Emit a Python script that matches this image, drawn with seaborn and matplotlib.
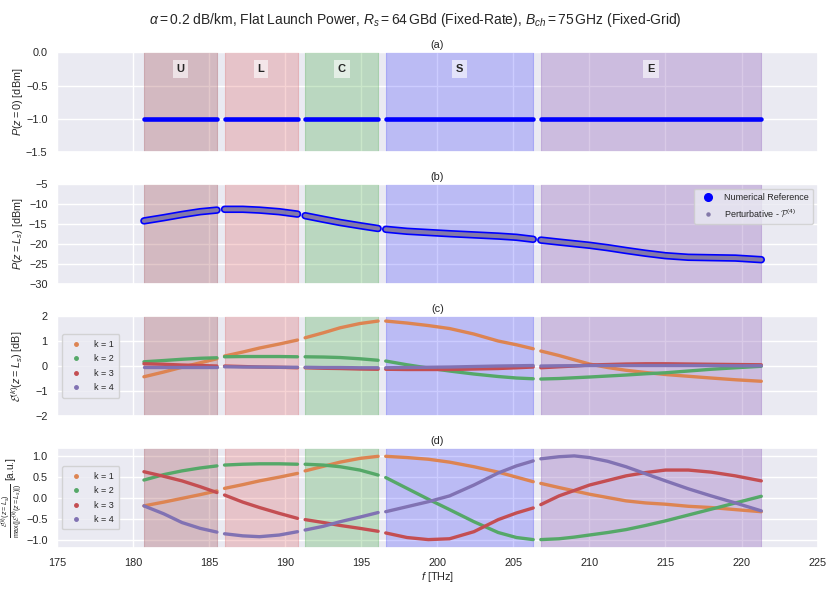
import numpy as np
import pandas as pd
import matplotlib
matplotlib.use('Agg')
import matplotlib.pyplot as plt
from matplotlib.lines import Line2D
import seaborn as sns

# ---- data ----
bands = ['U', 'L', 'C', 'S', 'E']
band_edges = [(180.7, 185.5), (186.0, 190.8), (191.3, 196.1), (196.6, 206.3), (206.8, 221.3)]
band_colors = ['#a14a52', '#d62728', '#2ca02c', '#0000ff', '#9467bd']
band_alpha = [0.3, 0.2, 0.25, 0.2, 0.35]

f_U = [180.7, 182.0, 183.2, 184.4, 185.5]
f_L = [186.0, 187.2, 188.3, 189.6, 190.8]
f_C = [191.3, 192.5, 193.6, 194.9, 196.1]
f_S = [196.6, 198.0, 199.4, 200.8, 202.4, 204.0, 205.2, 206.3]
f_E = [206.8, 208.0, 209.0, 210.0, 211.2, 212.4, 213.7, 215.0, 216.5, 218.0, 219.6, 221.3]
freqs = [f_U, f_L, f_C, f_S, f_E]

# (a) launch power
P0 = -1.0

# (b) power at end of span
PLs_U = [-14.2, -13.4, -12.6, -11.9, -11.5]
PLs_L = [-11.3, -11.3, -11.5, -11.9, -12.5]
PLs_C = [-12.9, -13.8, -14.6, -15.4, -16.1]
PLs_S = [-16.3, -16.8, -17.1, -17.4, -17.7, -18.0, -18.3, -18.8]
PLs_E = [-19.0, -19.5, -19.9, -20.3, -20.9, -21.6, -22.3, -22.9, -23.3, -23.4, -23.5, -23.9]
PLs = [PLs_U, PLs_L, PLs_C, PLs_S, PLs_E]

# (c) E^(k)(z=Ls) [dB]
Ek1 = [[-0.43, -0.24, -0.05, 0.13, 0.29],
       [0.40, 0.56, 0.72, 0.88, 1.04],
       [1.13, 1.33, 1.53, 1.70, 1.80],
       [1.80, 1.72, 1.62, 1.50, 1.28, 1.00, 0.85, 0.69],
       [0.60, 0.42, 0.25, 0.08, -0.06, -0.17, -0.26, -0.34, -0.41, -0.48, -0.55, -0.61]]
Ek2 = [[0.17, 0.22, 0.27, 0.31, 0.33],
       [0.37, 0.38, 0.38, 0.38, 0.37],
       [0.37, 0.36, 0.34, 0.29, 0.23],
       [0.20, 0.05, -0.08, -0.20, -0.32, -0.42, -0.48, -0.51],
       [-0.52, -0.50, -0.47, -0.44, -0.40, -0.36, -0.31, -0.27, -0.20, -0.13, -0.07, -0.01]]
Ek3 = [[0.09, 0.07, 0.04, 0.02, 0.00],
       [0.00, -0.02, -0.04, -0.05, -0.07],
       [-0.07, -0.09, -0.10, -0.12, -0.13],
       [-0.13, -0.14, -0.14, -0.14, -0.12, -0.10, -0.07, -0.04],
       [-0.07, -0.03, 0.00, 0.04, 0.06, 0.08, 0.09, 0.09, 0.08, 0.07, 0.06, 0.05]]
Ek4 = [[-0.03, -0.03, -0.03, -0.03, -0.03],
       [-0.03, -0.04, -0.04, -0.05, -0.05],
       [-0.05, -0.06, -0.06, -0.07, -0.07],
       [-0.07, -0.06, -0.05, -0.04, -0.02, 0.00, 0.01, 0.02],
       [0.00, 0.01, 0.01, 0.02, 0.02, 0.02, 0.02, 0.02, 0.02, 0.02, 0.01, 0.01]]

# (d) normalised E^(k)
Nk1 = [[-0.19, -0.10, -0.01, 0.08, 0.17],
       [0.23, 0.32, 0.41, 0.50, 0.59],
       [0.65, 0.76, 0.86, 0.95, 1.00],
       [1.00, 0.97, 0.93, 0.86, 0.75, 0.62, 0.50, 0.39],
       [0.35, 0.25, 0.17, 0.09, 0.01, -0.07, -0.12, -0.15, -0.20, -0.23, -0.28, -0.33]]
Nk2 = [[0.43, 0.56, 0.65, 0.72, 0.77],
       [0.79, 0.81, 0.82, 0.82, 0.81],
       [0.81, 0.79, 0.75, 0.67, 0.55],
       [0.49, 0.23, -0.03, -0.28, -0.57, -0.83, -0.95, -1.00],
       [-1.00, -0.98, -0.94, -0.89, -0.83, -0.76, -0.66, -0.55, -0.41, -0.27, -0.12, 0.04]]
Nk3 = [[0.63, 0.52, 0.41, 0.27, 0.13],
       [0.07, -0.10, -0.23, -0.37, -0.49],
       [-0.52, -0.59, -0.66, -0.73, -0.80],
       [-0.84, -0.95, -1.00, -0.98, -0.81, -0.52, -0.36, -0.24],
       [-0.16, 0.05, 0.18, 0.31, 0.42, 0.53, 0.61, 0.67, 0.67, 0.62, 0.53, 0.41]]
Nk4 = [[-0.19, -0.38, -0.59, -0.73, -0.82],
       [-0.86, -0.91, -0.93, -0.89, -0.81],
       [-0.77, -0.68, -0.57, -0.46, -0.35],
       [-0.33, -0.21, -0.09, 0.05, 0.31, 0.60, 0.77, 0.89],
       [0.94, 0.99, 1.01, 0.97, 0.88, 0.75, 0.58, 0.41, 0.22, 0.05, -0.12, -0.31]]

k_labels = ['k = 1', 'k = 2', 'k = 3', 'k = 4']


def long_table(series_list):
    rows = []
    for kl, series in zip(k_labels, series_list):
        for b, fb, vb in zip(bands, freqs, series):
            for fi, vi in zip(fb, vb):
                rows.append({'f': fi, 'val': vi, 'k': kl, 'band': b})
    return pd.DataFrame(rows)


df_c = long_table([Ek1, Ek2, Ek3, Ek4])
df_d = long_table([Nk1, Nk2, Nk3, Nk4])
rows_b = []
for b, fb, vb in zip(bands, freqs, PLs):
    for fi, vi in zip(fb, vb):
        rows_b.append({'f': fi, 'P': vi, 'band': b})
df_b = pd.DataFrame(rows_b)
df_a = df_b.assign(P=P0)

# ---- style ----
sns.set_theme(style='darkgrid')
plt.rcParams['font.family'] = ['Liberation Sans', 'DejaVu Sans']
plt.rcParams['mathtext.fontset'] = 'custom'
plt.rcParams['mathtext.rm'] = 'Liberation Sans'
plt.rcParams['mathtext.it'] = 'Liberation Sans:italic'
plt.rcParams['mathtext.bf'] = 'Liberation Sans:bold'
plt.rcParams['mathtext.cal'] = 'cmsy10'

pal = sns.color_palette('deep')
k_colors = dict(zip(k_labels, [pal[1], pal[2], pal[3], pal[4]]))

fs = 7.8
fig, axes = plt.subplots(4, 1, figsize=(8.3, 5.93), dpi=100, sharex=True)
fig.subplots_adjust(left=0.069, right=0.985, top=0.912, bottom=0.076, hspace=0.32)


def shade(ax):
    for (lo, hi), c, a in zip(band_edges, band_colors, band_alpha):
        ax.axvspan(lo, hi, facecolor=c, alpha=a, edgecolor=c, lw=0.8, zorder=1)


for ax in axes:
    shade(ax)
    ax.set_xlim(175, 225)
    ax.tick_params(labelsize=fs, pad=1)
    ax.set_xlabel('')

# (a)
ax = axes[0]
sns.lineplot(data=df_a, x='f', y='P', units='band', estimator=None, color='blue',
             lw=3.3, solid_capstyle='round', ax=ax, zorder=3)
ax.set_ylim(-1.5, 0)
ax.set_yticks([-1.5, -1.0, -0.5, 0.0])
ax.set_ylabel('$P(z=0)$ [dBm]', fontsize=fs)
ax.set_title('(a)', fontsize=fs, pad=3)
for b, (lo, hi) in zip(bands, band_edges):
    ax.text((lo + hi) / 2, -0.25, b, ha='center', va='center', fontsize=8,
            fontweight='bold', bbox=dict(facecolor='white', alpha=0.6, edgecolor='none', pad=2.8))

# (b)
ax = axes[1]
sns.lineplot(data=df_b, x='f', y='P', units='band', estimator=None, color='blue',
             lw=5.4, solid_capstyle='round', ax=ax, zorder=3)
sns.lineplot(data=df_b, x='f', y='P', units='band', estimator=None, color='#8479a9',
             lw=3.0, solid_capstyle='round', ax=ax, zorder=4)
ax.set_ylim(-30, -5)
ax.set_yticks([-30, -25, -20, -15, -10, -5])
ax.set_ylabel('$P(z=L_s)$ [dBm]', fontsize=fs)
ax.set_title('(b)', fontsize=fs, pad=3)
hb = [Line2D([], [], ls='none', marker='o', ms=5.5, color='blue'),
      Line2D([], [], ls='none', marker='o', ms=2.2, color='#8479a9')]
ax.legend(hb, ['Numerical Reference', r'Perturbative - $\mathcal{P}^{(4)}$'], loc='upper right',
          fontsize=6.5, frameon=True, borderpad=0.5, labelspacing=0.6)

# (c) and (d)
for ax, df in [(axes[2], df_c), (axes[3], df_d)]:
    sns.lineplot(data=df, x='f', y='val', hue='k', units='band', estimator=None,
                 palette=k_colors, lw=2.4, solid_capstyle='round', ax=ax, zorder=3, legend=False)
    hk = [Line2D([], [], ls='none', marker='o', ms=2.5, color=k_colors[kl]) for kl in k_labels]
    ax.legend(hk, k_labels, loc='center left', fontsize=6.5, frameon=True,
              borderpad=0.6, labelspacing=0.6, handletextpad=1.0)

ax = axes[2]
ax.set_ylim(-2, 2)
ax.set_yticks([-2, -1, 0, 1, 2])
ax.set_ylabel(r'$\mathcal{E}^{(k)}(z=L_s)$ [dB]', fontsize=fs)
ax.set_title('(c)', fontsize=fs, pad=3)

ax = axes[3]
ax.set_ylim(-1.2, 1.2)
ax.set_yticks([-1.0, -0.5, 0.0, 0.5, 1.0])
ax.set_ylabel(r'$\frac{\mathcal{E}^{(k)}(z=L_s)}{\max(|\mathcal{E}^{(k)}(z=L_s)|)}$ [a.u.]', fontsize=7.3)
ax.set_title('(d)', fontsize=fs, pad=3)
ax.set_xticks(np.arange(175, 226, 5))
ax.set_xlabel('$f$ [THz]', fontsize=fs, labelpad=2)

fig.suptitle(r'$\alpha = 0.2$ dB/km, Flat Launch Power, $R_s = 64\,$GBd (Fixed-Rate), '
             r'$B_{ch} = 75\,$GHz (Fixed-Grid)', fontsize=10, y=0.982)

for ax in axes:
    ax.yaxis.set_label_coords(-0.042, 0.5)

fig.savefig('out.png', dpi=100)
